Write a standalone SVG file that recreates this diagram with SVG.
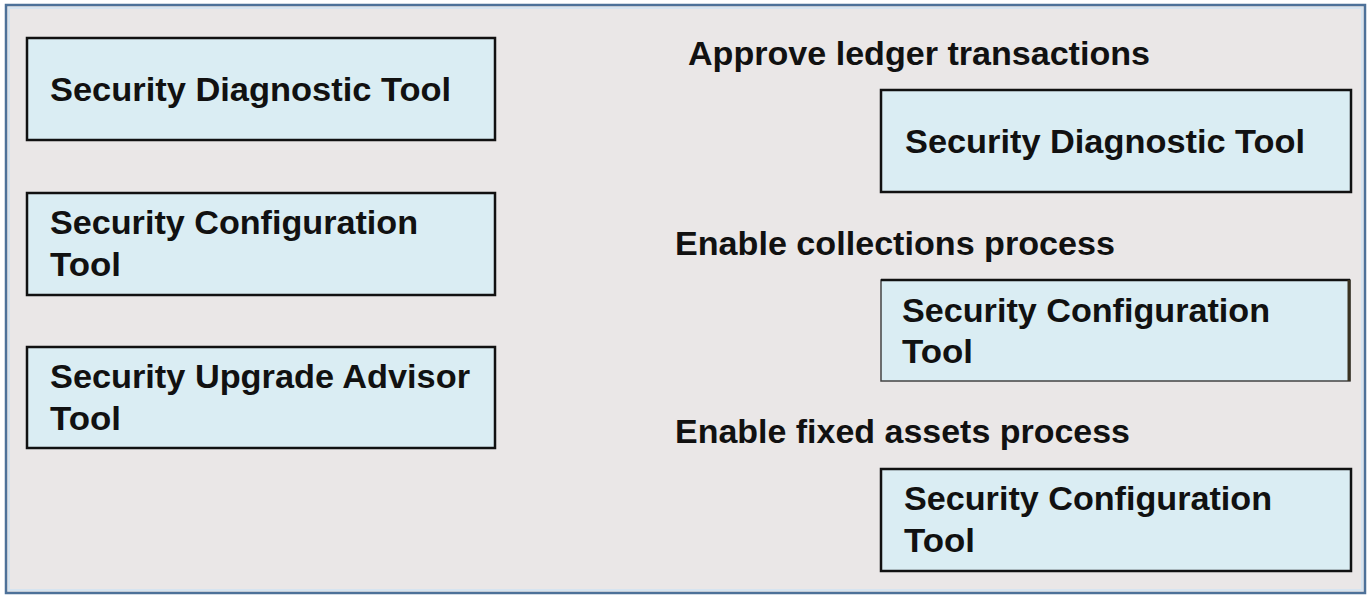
<svg xmlns="http://www.w3.org/2000/svg" width="1371" height="597" viewBox="0 0 1371 597">
<style>
.box{fill:#DAEDF3;stroke:#111;stroke-width:2.5}
.t{font-family:"Liberation Sans",Arial,sans-serif;font-weight:bold;font-size:32.5px;fill:#111}
.h{font-family:"Liberation Sans",Arial,sans-serif;font-weight:bold;font-size:33.5px;fill:#111}
</style>
<rect x="0" y="0" width="1371" height="597" fill="#ffffff"/>
<rect x="6" y="5" width="1359" height="588" fill="#EAE7E7" stroke="#4D7199" stroke-width="2.5"/>
<rect x="9" y="8" width="1353" height="582" fill="none" stroke="#D6E4F0" stroke-width="2"/>
<g id="connectors"></g>
<g id="left-diagnostic">
<rect class="box" x="27" y="38" width="468" height="102"/>
<text class="t" x="50" y="101" textLength="401" lengthAdjust="spacingAndGlyphs">Security Diagnostic Tool</text>
</g>
<g id="left-configuration">
<rect class="box" x="27" y="193" width="468" height="102"/>
<text class="t" x="50" y="234" textLength="368" lengthAdjust="spacingAndGlyphs">Security Configuration</text>
<text class="t" x="50" y="276" textLength="71" lengthAdjust="spacingAndGlyphs">Tool</text>
</g>
<g id="left-upgrade">
<rect class="box" x="27" y="347" width="468" height="101"/>
<text class="t" x="50" y="388" textLength="420" lengthAdjust="spacingAndGlyphs">Security Upgrade Advisor</text>
<text class="t" x="50" y="430" textLength="71" lengthAdjust="spacingAndGlyphs">Tool</text>
</g>
<g id="heading-ledger">
<text class="h" x="688" y="65" textLength="462" lengthAdjust="spacingAndGlyphs">Approve ledger transactions</text>
</g>
<g id="right-diagnostic">
<rect class="box" x="881" y="90" width="470" height="102"/>
<text class="t" x="905" y="153" textLength="400" lengthAdjust="spacingAndGlyphs">Security Diagnostic Tool</text>
</g>
<g id="heading-collections">
<text class="h" x="675" y="255" textLength="440" lengthAdjust="spacingAndGlyphs">Enable collections process</text>
</g>
<g id="right-configuration-1">
<rect x="881" y="280" width="469" height="101" fill="#DAEDF3" stroke="#444" stroke-width="1.5"/>
<line x1="881" y1="280" x2="1350" y2="280" stroke="#111" stroke-width="2.5"/>
<line x1="1349" y1="280" x2="1349" y2="381" stroke="#3a3320" stroke-width="3"/>
<text class="t" x="902" y="322" textLength="368" lengthAdjust="spacingAndGlyphs">Security Configuration</text>
<text class="t" x="902" y="363" textLength="71" lengthAdjust="spacingAndGlyphs">Tool</text>
</g>
<g id="heading-fixed-assets">
<text class="h" x="675" y="443" textLength="455" lengthAdjust="spacingAndGlyphs">Enable fixed assets process</text>
</g>
<g id="right-configuration-2">
<rect class="box" x="881" y="469" width="470" height="102"/>
<text class="t" x="904" y="510" textLength="368" lengthAdjust="spacingAndGlyphs">Security Configuration</text>
<text class="t" x="904" y="552" textLength="71" lengthAdjust="spacingAndGlyphs">Tool</text>
</g>
</svg>
